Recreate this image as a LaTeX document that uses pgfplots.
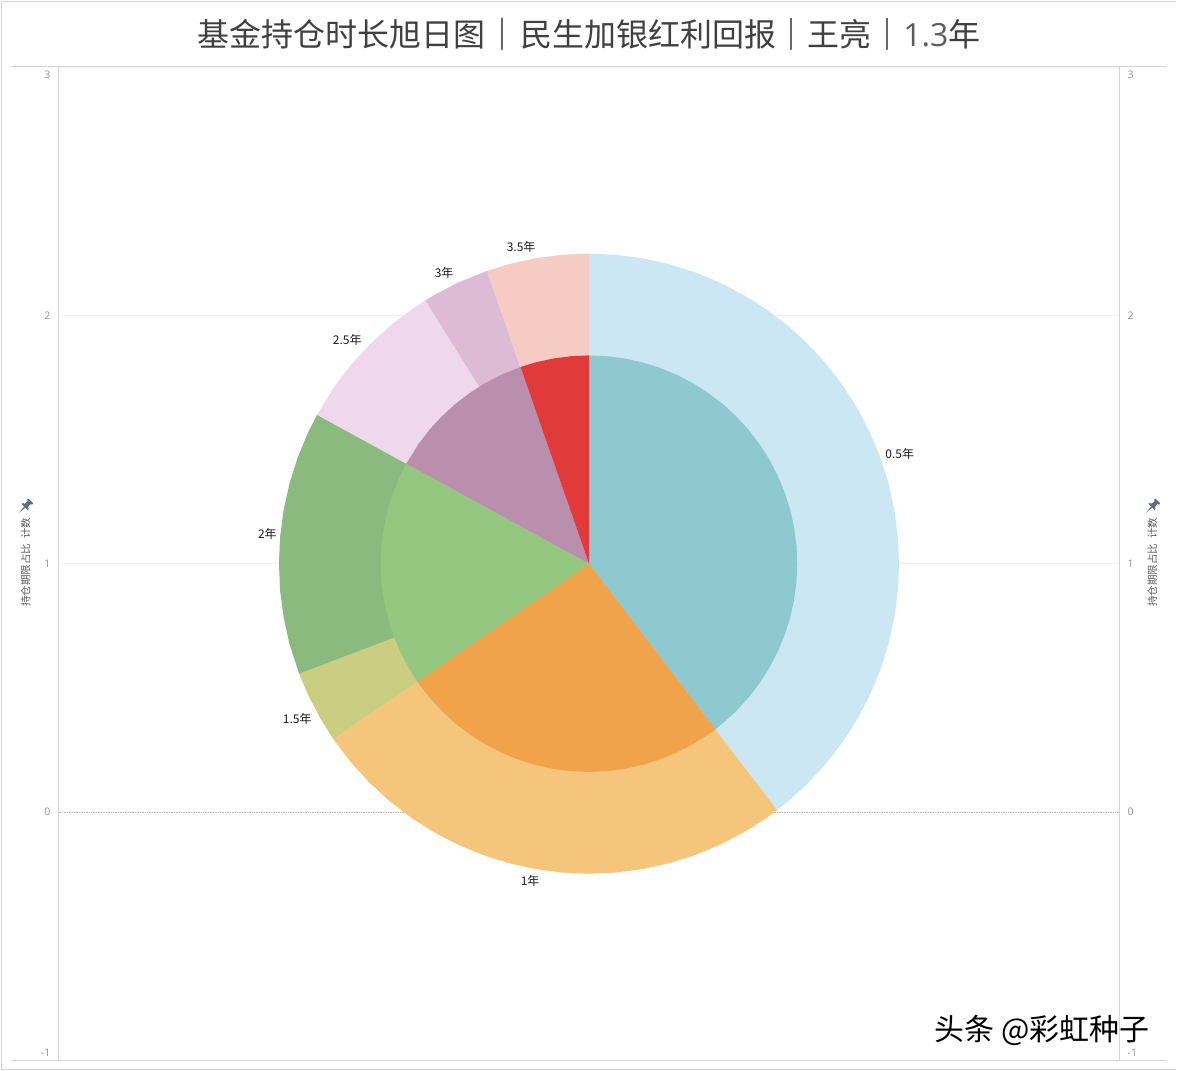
\documentclass[border=0pt]{standalone}
\usepackage{fontspec}
\usepackage{pgfplots}
\pgfplotsset{compat=1.18}
\setmainfont{Noto Sans CJK SC}
\newfontfamily\latinfont{Open Sans}
\definecolor{framegray}{HTML}{D4D4D4}
\definecolor{ticktext}{HTML}{909090}
\definecolor{titletext}{HTML}{404040}
\definecolor{axistext}{HTML}{5A5A5A}
\definecolor{pincolor}{HTML}{5F6F7F}
\definecolor{lightgrid}{HTML}{F2F2F2}
\definecolor{outerA}{HTML}{CBE7F4}
\definecolor{outerB}{HTML}{F6C57C}
\definecolor{outerC}{HTML}{CBCD80}
\definecolor{outerD}{HTML}{8ABA7E}
\definecolor{outerE}{HTML}{EFD7EC}
\definecolor{outerF}{HTML}{DDBBD4}
\definecolor{outerG}{HTML}{F6CBC4}
\definecolor{innerA}{HTML}{8FC9D0}
\definecolor{innerB}{HTML}{F1A34C}
\definecolor{innerC}{HTML}{94C880}
\definecolor{innerD}{HTML}{BA8FAE}
\definecolor{innerE}{HTML}{E03A3A}
\newcommand{\ylab}{\fontsize{10.5}{11}\selectfont 持仓期限占比\hspace{3pt} 计数}
% pin icon next to the axis titles
\newcommand{\pin}[2]{\begin{scope}[shift={(#1,#2)}, rotate=-45, scale=1.15]
  \fill[pincolor] (0,-8) -- (-0.7,-1) -- (0.7,-1) -- cycle;
  \fill[pincolor] (-4.2,-1) -- (4.2,-1) -- (3,0.8) -- (2,0.8) -- (1.8,4.8) -- (3,4.8) -- (3,6.5) -- (-3,6.5) -- (-3,4.8) -- (-1.8,4.8) -- (-2,0.8) -- (-3,0.8) -- cycle;
\end{scope}}
\pgfplotsset{
  frame/.style={
    scale only axis, width=1062pt, height=994pt,
    xmin=-2.1368, xmax=2.1368, ymin=-1, ymax=3,
    axis x line=none,
    axis line style={framegray, -, line width=0.9pt},
    ytick={-1,1,2,3}, yticklabels={-1,1,2,3},
    extra y ticks={0}, extra y tick labels={0},
    major tick length=0pt,
    tick label style={font=\latinfont\fontsize{10.5}{11}\selectfont, text=ticktext, inner sep=0pt},
    ylabel={\ylab},
    label style={text=axistext},
  }
}
\begin{document}
\begin{tikzpicture}[x=1pt,y=1pt]
\path (0,0) rectangle (1177,1071);

% left axis, grid
\begin{axis}[frame, at={(58pt,10.5pt)}, anchor=south west,
  axis y line*=left,
  ymajorgrids, grid style={lightgrid, line width=0.7pt},
  extra tick style={grid style={densely dotted, gray!55, line width=0.5pt}},
  yticklabel style={xshift=-8pt, yshift={\tick==-1 ? 7.5 : (\tick==3 ? -7.5 : 0)}},
  ylabel style={at={(axis description cs:0,0.5015)}, anchor=center, yshift=33pt},
  title={\fontsize{32}{34}\selectfont\textcolor{titletext}{基金持仓时长旭日图\hspace{1.5pt}{\bfseries ｜}\hspace{1.5pt}民生加银红利回报\hspace{-0.5pt}{\bfseries ｜}王亮{\bfseries ｜}{\latinfont\color{titletext!85}1.3}年}},
  title style={at={(axis description cs:0.5,1)}, anchor=center, yshift=27pt},
]
\end{axis}

% right axis
\begin{axis}[frame, at={(58pt,10.5pt)}, anchor=south west,
  axis y line*=right,
  yticklabel style={xshift=8pt, yshift={\tick==-1 ? 7.5 : (\tick==3 ? -7.5 : 0)}},
  ylabel style={at={(axis description cs:1,0.5015)}, anchor=center, yshift=-33pt},
]
\end{axis}

% frame and the two long rules
\draw[framegray, line width=1.5pt] (1,1071) -- (1,1) ;
\draw[framegray, line width=1.2pt] (0,1070.4) -- (1177,1070.4);
\draw[framegray, line width=1.2pt] (0,1.2) -- (1177,1.2);
\draw[framegray, line width=0.9pt] (10,1004.9) -- (1168,1004.9);
\draw[framegray, line width=0.9pt] (10,10) -- (1168,10);
\pin{25}{565}
\pin{1153}{565}

% rings: (angle in degrees, radius), outer wedges first, inner wedges over them
\begin{axis}[scale only axis, width=1062pt, height=994pt, at={(58pt,10.5pt)}, anchor=south west,
  xmin=-2.1368, xmax=2.1368, ymin=-2, ymax=2, hide axis, clip=false]
\addplot[fill=outerA, draw=none, data cs=polar] coordinates {(0,0)
 (90,1.249)(85,1.249)(80,1.249)(75,1.249)(70,1.249)(65,1.249)(60,1.249)(55,1.249)(50,1.249)(45,1.249)(40,1.249)(35,1.249)(30,1.249)(25,1.249)(20,1.249)(15,1.249)(10,1.249)(5,1.249)(0,1.249)
 (-5,1.249)(-10,1.249)(-15,1.249)(-20,1.249)(-25,1.249)(-30,1.249)(-35,1.249)(-40,1.249)(-45,1.249)(-50,1.249)(-52.65,1.249)};
\addplot[fill=outerB, draw=none, data cs=polar] coordinates {(0,0)
 (-52.65,1.249)(-55,1.249)(-60,1.249)(-65,1.249)(-70,1.249)(-75,1.249)(-80,1.249)(-85,1.249)(-90,1.249)(-95,1.249)(-100,1.249)(-105,1.249)(-110,1.249)(-115,1.249)(-120,1.249)(-125,1.249)(-130,1.249)(-135,1.249)(-140,1.249)(-145,1.249)(-145.5,1.249)};
\addplot[fill=outerC, draw=none, data cs=polar] coordinates {(0,0)
 (-145.5,1.249)(-150,1.249)(-155,1.249)(-159.2,1.249)};
\addplot[fill=outerD, draw=none, data cs=polar] coordinates {(0,0)
 (-159.2,1.249)(-165,1.249)(-170,1.249)(-175,1.249)(-180,1.249)(-185,1.249)(-190,1.249)(-195,1.249)(-200,1.249)(-205,1.249)(-208.7,1.249)};
\addplot[fill=outerE, draw=none, data cs=polar] coordinates {(0,0)
 (-208.7,1.249)(-215,1.249)(-220,1.249)(-225,1.249)(-230,1.249)(-235,1.249)(-238.15,1.249)};
\addplot[fill=outerF, draw=none, data cs=polar] coordinates {(0,0)
 (-238.15,1.249)(-240,1.249)(-245,1.249)(-250.8,1.249)};
\addplot[fill=outerG, draw=none, data cs=polar] coordinates {(0,0)
 (-250.8,1.249)(-255,1.249)(-260,1.249)(-265,1.249)(-270,1.249)};

\addplot[fill=innerA, draw=none, data cs=polar] coordinates {(0,0)
 (90,0.839)(85,0.839)(80,0.839)(75,0.839)(70,0.839)(65,0.839)(60,0.839)(55,0.839)(50,0.839)(45,0.839)(40,0.839)(35,0.839)(30,0.839)(25,0.839)(20,0.839)(15,0.839)(10,0.839)(5,0.839)(0,0.839)
 (-5,0.839)(-10,0.839)(-15,0.839)(-20,0.839)(-25,0.839)(-30,0.839)(-35,0.839)(-40,0.839)(-45,0.839)(-50,0.839)(-52.65,0.839)};
\addplot[fill=innerB, draw=none, data cs=polar] coordinates {(0,0)
 (-52.65,0.839)(-55,0.839)(-60,0.839)(-65,0.839)(-70,0.839)(-75,0.839)(-80,0.839)(-85,0.839)(-90,0.839)(-95,0.839)(-100,0.839)(-105,0.839)(-110,0.839)(-115,0.839)(-120,0.839)(-125,0.839)(-130,0.839)(-135,0.839)(-140,0.839)(-145,0.839)(-145.5,0.839)};
\addplot[fill=innerC, draw=none, data cs=polar] coordinates {(0,0)
 (-145.5,0.839)(-150,0.839)(-155,0.839)(-160,0.839)(-165,0.839)(-170,0.839)(-175,0.839)(-180,0.839)(-185,0.839)(-190,0.839)(-195,0.839)(-200,0.839)(-205,0.839)(-208.7,0.839)};
\addplot[fill=innerD, draw=none, data cs=polar] coordinates {(0,0)
 (-208.7,0.839)(-215,0.839)(-220,0.839)(-225,0.839)(-230,0.839)(-235,0.839)(-240,0.839)(-245,0.839)(-250.8,0.839)};
\addplot[fill=innerE, draw=none, data cs=polar] coordinates {(0,0)
 (-250.8,0.839)(-255,0.839)(-260,0.839)(-265,0.839)(-270,0.839)};

\begin{scope}[every node/.style={font=\fontsize{12}{13}\selectfont, text=black!90, inner sep=0pt, yshift=-1pt}]
\node at (axis cs:1.2515,0.4467) {0.5年};
\node at (axis cs:-0.2374,-1.2756) {1年};
\node at (axis cs:-1.1751,-0.6197) {1.5年};
\node at (axis cs:-1.2958,0.1247) {2年};
\node at (axis cs:-0.9738,0.9054) {2.5年};
\node at (axis cs:-0.5835,1.1751) {3年};
\node at (axis cs:-0.2736,1.2797) {3.5年};
\end{scope}
\end{axis}

% watermark
\node[anchor=center, inner sep=0pt, text=black, font=\fontsize{30}{31}\selectfont] at (1042.5,40) {头条 @彩虹种子};
\end{tikzpicture}
\end{document}
